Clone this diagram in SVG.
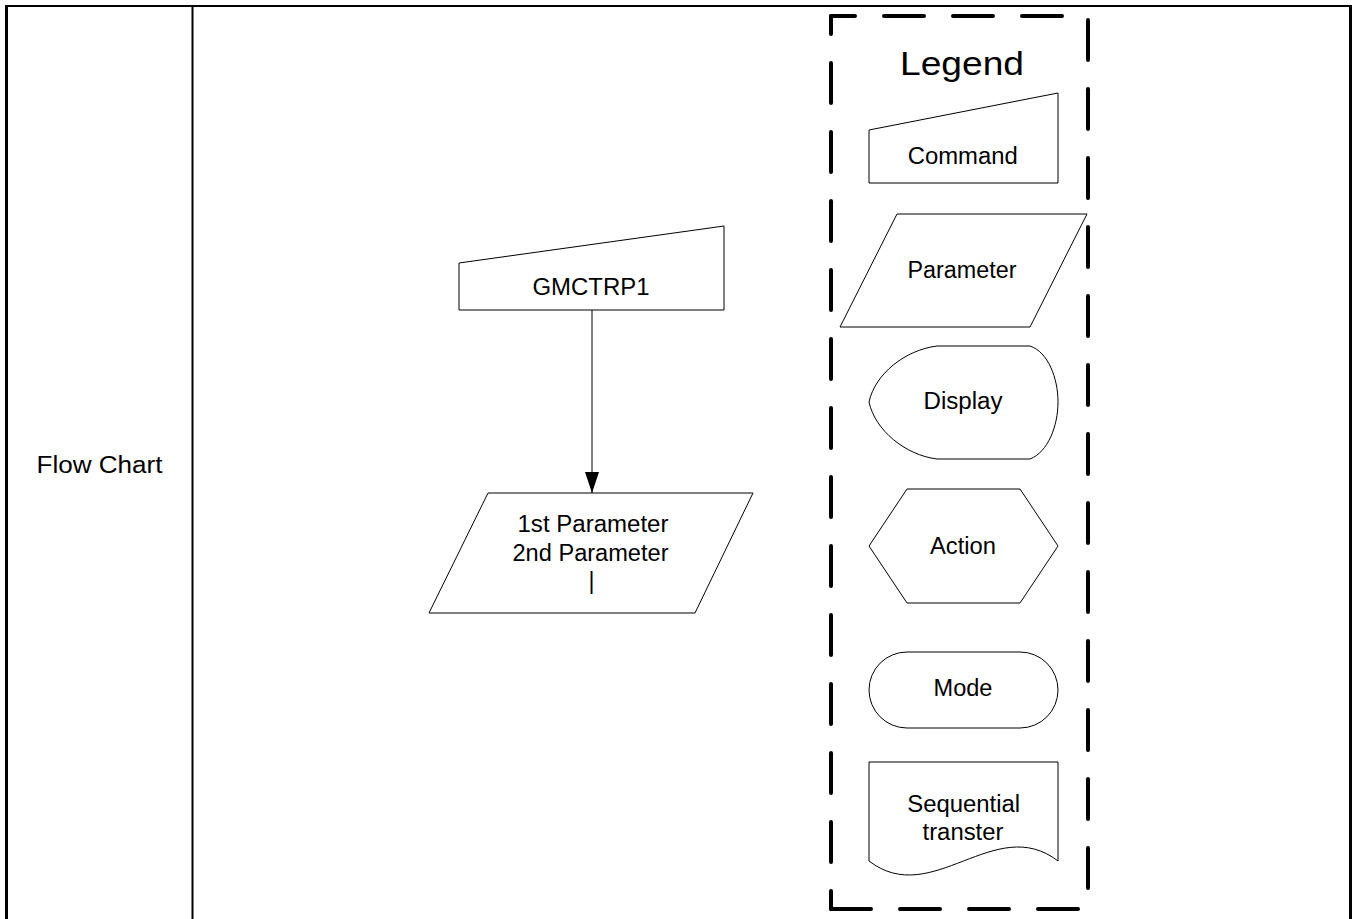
<svg xmlns="http://www.w3.org/2000/svg" width="1355" height="919" viewBox="0 0 1355 919">
  <style>
    .t { font-family: "Liberation Sans", Arial, sans-serif; font-size: 23px; fill: #000; text-anchor: middle; }
    .shape { fill: #fff; stroke: #000; stroke-width: 1; }
    .dash { fill: none; stroke: #000; stroke-width: 4; stroke-linecap: round; stroke-dasharray: 40 29; }
  </style>
  <defs>
    <marker id="arrow" markerWidth="21" markerHeight="14" refX="21" refY="7" orient="auto" markerUnits="userSpaceOnUse" viewBox="0 0 21 14">
      <path d="M0,0 L21,7 L0,14 Z" fill="#000"/>
    </marker>
  </defs>
  <rect x="0" y="0" width="1355" height="919" fill="#fff"/>

  <g id="table">
    <line x1="5" y1="6" x2="1352" y2="6" stroke="#000" stroke-width="2"/>
    <line x1="6.5" y1="5" x2="6.5" y2="919" stroke="#000" stroke-width="3"/>
    <line x1="1350.5" y1="5" x2="1350.5" y2="919" stroke="#000" stroke-width="3"/>
    <line x1="192.5" y1="6" x2="192.5" y2="919" stroke="#000" stroke-width="2"/>
    <text class="t" x="99.5" y="472.5" textLength="126" lengthAdjust="spacingAndGlyphs">Flow Chart</text>
  </g>

  <g id="connectors">
    <line x1="592" y1="310" x2="592" y2="493" stroke="#000" stroke-width="1" marker-end="url(#arrow)"/>
  </g>

  <g id="node-gmctrp1">
    <polygon class="shape" points="459,263 724,226 724,310 459,310"/>
    <text class="t" x="591" y="295" textLength="117" lengthAdjust="spacingAndGlyphs">GMCTRP1</text>
  </g>

  <g id="node-parameters">
    <polygon class="shape" points="488,493 753,493 695,613 429,613"/>
    <text class="t" x="593" y="532" textLength="151" lengthAdjust="spacingAndGlyphs">1st Parameter</text>
    <text class="t" x="590.5" y="561" textLength="156" lengthAdjust="spacingAndGlyphs">2nd Parameter</text>
    <text class="t" x="591.5" y="589">|</text>
  </g>

  <g id="legend">
    <line class="dash" x1="831" y1="16" x2="1088" y2="16" stroke-dashoffset="16"/>
    <line class="dash" x1="831" y1="16" x2="831" y2="909" stroke-dashoffset="22"/>
    <line class="dash" x1="831" y1="909" x2="1088" y2="909"/>
    <line class="dash" x1="1088" y1="20" x2="1088" y2="909"/>
    <text class="t" x="962" y="75" style="font-size:33px" textLength="124" lengthAdjust="spacingAndGlyphs">Legend</text>
  </g>

  <g id="legend-command">
    <polygon class="shape" points="869,130 1058,93 1058,183 869,183"/>
    <text class="t" x="962.7" y="164" textLength="110" lengthAdjust="spacingAndGlyphs">Command</text>
  </g>

  <g id="legend-parameter">
    <polygon class="shape" points="897,214 1087,214 1030,327 840,327"/>
    <text class="t" x="962" y="278" textLength="109" lengthAdjust="spacingAndGlyphs">Parameter</text>
  </g>

  <g id="legend-display">
    <path class="shape" d="M937,346 L1030,346 C1048,352 1058,378 1058,402 C1058,426 1048,452 1030,459 L937,459 C905,455 875,430 869,402 C875,374 905,350 937,346 Z"/>
    <text class="t" x="963" y="409" textLength="79" lengthAdjust="spacingAndGlyphs">Display</text>
  </g>

  <g id="legend-action">
    <polygon class="shape" points="907,489 1020,489 1058,546 1020,603 907,603 869,546"/>
    <text class="t" x="963" y="554" textLength="66" lengthAdjust="spacingAndGlyphs">Action</text>
  </g>

  <g id="legend-mode">
    <rect class="shape" x="869" y="652" width="189" height="76" rx="38" ry="38"/>
    <text class="t" x="963" y="696" textLength="59" lengthAdjust="spacingAndGlyphs">Mode</text>
  </g>

  <g id="legend-sequential">
    <path class="shape" d="M869,762 L1058,762 L1058,861 C995,812.5 932,909.5 869,861 Z"/>
    <text class="t" x="963.7" y="812" textLength="113" lengthAdjust="spacingAndGlyphs">Sequential</text>
    <text class="t" x="963" y="840" textLength="81" lengthAdjust="spacingAndGlyphs">transter</text>
  </g>
</svg>
